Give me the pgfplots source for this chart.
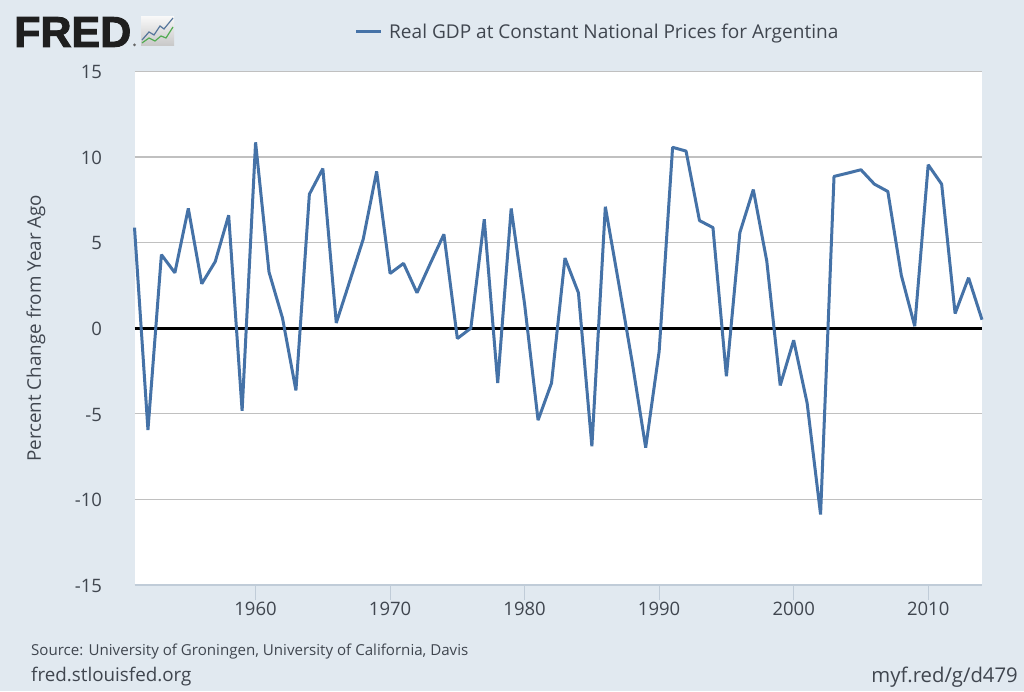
\documentclass[border=0pt]{standalone}
\usepackage{fontspec}
\setmainfont{Open Sans}
\newfontfamily\logofont[FakeBold=2.2]{Liberation Sans Bold}
\usepackage{pgfplots}
\usepackage{pgfplotstable}
\pgfplotsset{compat=1.18}
\definecolor{fredbg}{HTML}{E1E9F0}
\definecolor{fredline}{HTML}{4572A7}
\definecolor{fredgrid}{HTML}{C0C0C0}
\definecolor{fredtext}{HTML}{40464F}
\definecolor{fredtick}{HTML}{C0CCD8}

\pgfplotstableread{
year gdp
1951 5.88
1952 -5.94
1953 4.30
1954 3.24
1955 7.00
1956 2.60
1957 3.89
1958 6.60
1959 -4.82
1960 10.86
1961 3.28
1962 0.60
1963 -3.63
1964 7.83
1965 9.33
1966 0.31
1967 2.75
1968 5.20
1969 9.16
1970 3.20
1971 3.79
1972 2.07
1973 3.80
1974 5.49
1975 -0.60
1976 0.00
1977 6.37
1978 -3.20
1979 7.00
1980 1.40
1981 -5.37
1982 -3.20
1983 4.10
1984 2.07
1985 -6.90
1986 7.10
1987 2.60
1988 -2.00
1989 -6.97
1990 -1.35
1991 10.57
1992 10.35
1993 6.29
1994 5.88
1995 -2.81
1996 5.59
1997 8.10
1998 3.93
1999 -3.34
2000 -0.70
2001 -4.37
2002 -10.88
2003 8.87
2004 9.06
2005 9.26
2006 8.42
2007 7.99
2008 3.10
2009 0.12
2010 9.55
2011 8.42
2012 0.86
2013 2.95
2014 0.50
}\gdpdata

\begin{document}
\begin{tikzpicture}[x=1pt,y=1pt]
\fill[fredbg] (0,0) rectangle (1024,691);
\begin{axis}[
  at={(134.5pt,106pt)},anchor=south west,
  scale only axis,
  width=847.5pt,height=513.5pt,
  xmin=1951,xmax=2014,
  ymin=-15,ymax=15,
  axis background/.style={fill=white},
  axis line style={draw=none},
  xtick={1960,1970,...,2010},
  ytick={-15,-10,...,15},
  ymajorgrids,
  grid style={fredgrid,line width=1.2pt},
  xtick pos=bottom,ytick pos=left,
  xtick align=outside,
  xtick style={draw=fredtick,line width=1pt},
  major tick length=15pt,
  ytick style={draw=none},
  tick label style={font=\fontsize{18.5}{21}\selectfont,text=fredtext},
  /pgf/number format/assume math mode=true,
  /pgf/number format/1000 sep={},
  yticklabel style={xshift=-29pt,yshift=-0.8pt},
  xticklabel style={yshift=1pt},
  ylabel={Percent Change from Year Ago},
  every axis y label/.style={at={(axis description cs:-0.1163,0.5)},rotate=90,anchor=center,
    font=\fontsize{18.8}{22}\selectfont,text=fredtext},
  clip=false,
]
\addplot[fredtick,line width=1.4pt,forget plot] coordinates {(1951,-15) (2014,-15)};
\addplot[black,line width=3.2pt,forget plot] coordinates {(1951,0) (2014,0)};
\addplot[fredline,line width=3pt,line join=bevel] table[x=year,y=gdp] {\gdpdata};
\end{axis}
% legend
\draw[fredline,line width=3pt] (356,659.5) -- (381,659.5);
\node[anchor=west,inner sep=0pt,text=fredtext,font=\fontsize{19.05}{22}\selectfont] at (389,657.5) {Real GDP at Constant National Prices for Argentina};
% notes
\node[anchor=west,inner sep=0pt,text=fredtext,font=\fontsize{15.1}{18}\selectfont] at (31,39) {Source: University of Groningen, University of California, Davis};
\node[anchor=west,inner sep=0pt,text=fredtext,font=\fontsize{18.8}{22}\selectfont] at (31,14) {fred.stlouisfed.org};
\node[anchor=east,inner sep=0pt,text=fredtext,font=\fontsize{20.3}{23}\selectfont] at (1018,14) {myf.red/g/d479};
% logo
\node[anchor=west,inner sep=0pt,text=black!88,font=\logofont\fontsize{43}{43}\selectfont] at (14,659) {FRED};
\fill[black!60] (134.5,646) circle (1.5);
\shade[top color=black!3,bottom color=black!22] (141,645) rectangle (174,674);
\draw[fredline!70!gray,line width=1.2pt] (142,651) -- (149,659) -- (154,656) -- (160,665) -- (164,662) -- (173,673);
\draw[green!35!gray,line width=1.2pt] (142,648) -- (149,653) -- (155,650) -- (161,655) -- (166,653) -- (173,664);
\end{tikzpicture}
\end{document}
